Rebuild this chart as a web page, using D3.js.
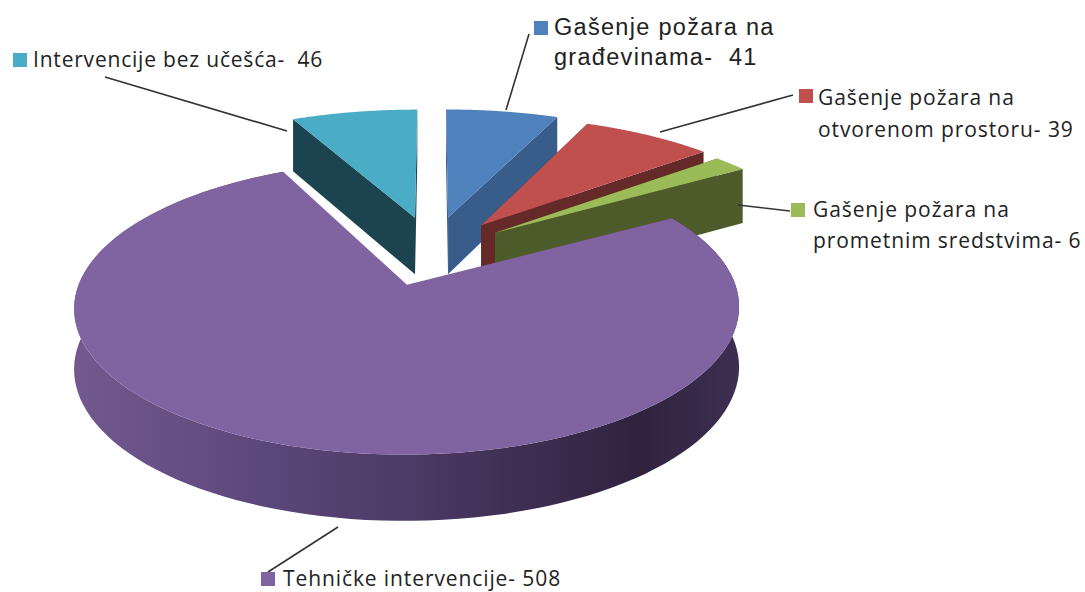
<!DOCTYPE html>
<html>
<head>
<meta charset="utf-8">
<script src="https://cdn.jsdelivr.net/npm/d3@7"></script>
<style>
  html, body { margin: 0; padding: 0; background: #fff; }
  svg { display: block; }
</style>
</head>
<body>
<svg id="chart" width="1085" height="592"></svg>
<script>
// Data
const categories = ["Gašenje požara na građevinama", "Gašenje požara na otvorenom prostoru",
  "Gašenje požara na prometnim sredstvima", "Tehničke intervencije", "Intervencije bez učešća"];
const values = [41, 39, 6, 508, 46];
const labelLines = [
  ["Gašenje požara na", "građevinama-  41"],
  ["Gašenje požara na", "otvorenom prostoru- 39"],
  ["Gašenje požara na", "prometnim sredstvima- 6"],
  ["Tehničke intervencije- 508"],
  ["Intervencije bez učešća-  46"]
];

// Colours
const topColors = ["#4f81bd", "#c0504d", "#9bbb59", "#8064a2", "#4bacc6"];
const wallColors = ["#385d8a", "#652a28", "#4d5b2a", "#4a3a5f", "#1c4450"];

// Projection of the tilted pie
const cx = 432, cy = 249, rx = 333, ry = 133, persp = 0.15;
const pull = 0.25;       // how far the slices are exploded
const depth = 58;
const shiftX = [0, 4, 4, -9, 1];
const shiftY = [0, 3, 6, 2, 0];
const widthScale = [1, 1, 1, 0.95, 1];
const startExtra = [0, 0, 0, 3, 0];   // degrees, the big slice starts a little later

// the picture's perspective opens up the right side of the pie
const warp = d3.scaleLinear()
  .domain([0, 23, 45, 48.4, 334, 360])
  .range([0, 23, 50, 57, 334, 360]);

function project(u, v, z, i) {
  const w = 1 - persp * v;
  return [
    cx + shiftX[i] + rx * widthScale[i] * u / w,
    cy + shiftY[i] + ry * v / w + z * depth / (1 - 0.1 * v)
  ];
}

const svg = d3.select("#chart");
const pie = d3.pie().sort(null).startAngle(0).endAngle(2 * Math.PI);
const arcs = pie(values);
const line = d3.line();

const defs = svg.append("defs");
const grad = defs.append("linearGradient")
  .attr("id", "wallGrad")
  .attr("gradientUnits", "userSpaceOnUse")
  .attr("x1", 73).attr("x2", 740).attr("y1", 0).attr("y2", 0);
[[0, "#72598f"], [0.3, "#5b4679"], [0.5, "#4d3a66"], [0.85, "#30223f"], [1, "#3e2f52"]].forEach(s => {
  grad.append("stop").attr("offset", s[0]).attr("stop-color", s[1]);
});

// Slice geometry, angles in radians clockwise from 12 o'clock
function geometry(d) {
  const i = d.index;
  const mid = (d.startAngle + d.endAngle) / 2;
  const u0 = pull * Math.sin(mid), v0 = -pull * Math.cos(mid);
  const toRad = a => warp(a * 180 / Math.PI) * Math.PI / 180;
  const a0 = toRad(d.startAngle) + startExtra[i] * Math.PI / 180, a1 = toRad(d.endAngle);
  const rim = d3.range(0, 121).map(k => {
    const a = a0 + (a1 - a0) * k / 120;
    return [u0 + Math.sin(a), v0 - Math.cos(a)];
  });
  return {i, apex: [u0, v0], rim};
}

function face(g, pts, z) {
  return pts.map(p => project(p[0], p[1], z, g.i));
}

// Painted back to front: blue, cyan, red, green, purple
const order = [0, 4, 1, 2, 3];
order.forEach(idx => {
  const g = geometry(arcs[idx]);
  const first = g.rim[0], last = g.rim[g.rim.length - 1];

  if (idx === 3) {
    // outer wall of the big slice
    const wall = face(g, g.rim, 0).concat(face(g, g.rim, 1).reverse());
    svg.append("path").attr("d", line(wall) + "Z").attr("fill", "url(#wallGrad)");
  } else {
    [first, last].forEach(p => {
      const cut = face(g, [g.apex, p], 0).concat(face(g, [p, g.apex], 1));
      svg.append("path").attr("d", line(cut) + "Z").attr("fill", wallColors[idx]);
    });
  }
  const top = face(g, [g.apex].concat(g.rim), 0);
  svg.append("path").attr("d", line(top) + "Z").attr("fill", topColors[idx]);
});

// Leader lines
const leaders = [
  [[506, 110], [529, 34]],
  [[660, 132], [793, 95]],
  [[738, 205], [790, 211]],
  [[338, 527], [268, 572]],
  [[105, 77], [287, 131]]
];
leaders.forEach(l => {
  svg.append("path").attr("d", line(l))
    .attr("fill", "none").attr("stroke", "#333").attr("stroke-width", 1.6);
});

// Labels
const labelStyle = [
  {sx: 534, sy: 21, size: 14, x: 554, ys: [35, 65], font: "Liberation Sans", px: 23.5, ls: 1.3},
  {sx: 799, sy: 89, size: 14, x: 818, ys: [105, 137], font: "Open Sans", px: 21, ls: 0.9},
  {sx: 791, sy: 203, size: 14, x: 813, ys: [217, 248], font: "Open Sans", px: 21, ls: 0.9},
  {sx: 261, sy: 572, size: 14, x: 283, ys: [586], font: "Open Sans", px: 21, ls: 0.9},
  {sx: 13, sy: 53, size: 14, x: 33, ys: [67], font: "Open Sans", px: 21, ls: 0.8}
];
labelStyle.forEach((s, i) => {
  svg.append("rect")
    .attr("x", s.sx).attr("y", s.sy).attr("width", s.size).attr("height", s.size)
    .attr("fill", topColors[i]);
  labelLines[i].forEach((t, j) => {
    svg.append("text")
      .attr("x", s.x).attr("y", s.ys[j])
      .attr("font-family", `"${s.font}", sans-serif`)
      .attr("font-size", s.px)
      .attr("letter-spacing", s.ls)
      .attr("fill", "#222")
      .attr("xml:space", "preserve")
      .style("white-space", "pre")
      .text(t);
  });
});
</script>
</body>
</html>
